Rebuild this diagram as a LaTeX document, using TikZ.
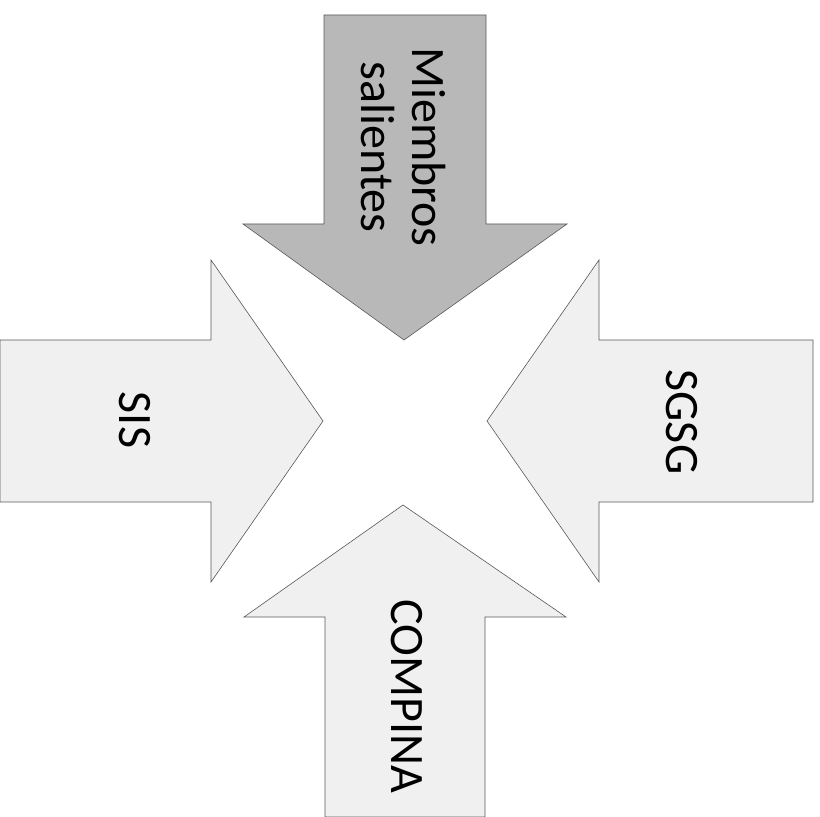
\documentclass[tikz,border=0pt]{standalone}
\usepackage{fontspec}
\setmainfont{Carlito}
\begin{document}
\begin{tikzpicture}[x=1pt,y=1pt,
  arrowshape/.style={draw=black!65,line width=0.6pt,line join=miter},
  darkarrow/.style={arrowshape,fill=black!28},
  lightarrow/.style={arrowshape,fill=black!6},
  lbl/.style={font=\fontsize{48}{51}\selectfont,align=center,inner sep=0pt}]
\useasboundingbox (0,0) rectangle (820,817);
\fill[white] (0,0) rectangle (820,817);
% top arrow (img y -> 817-y)
\draw[darkarrow] (324,802) -- (486,802) -- (486,593) -- (567,593) -- (404,477) -- (243,593) -- (324,593) -- cycle;
% left arrow
\draw[lightarrow] (0,477) -- (211,477) -- (211,557) -- (323,396) -- (211,235) -- (211,315) -- (0,315) -- cycle;
% right arrow
\draw[lightarrow] (813,477) -- (599,477) -- (599,557) -- (487,396) -- (599,235) -- (599,315) -- (813,315) -- cycle;
% bottom arrow
\draw[lightarrow] (325,0) -- (485,0) -- (485,200) -- (566,200) -- (403,312) -- (244,200) -- (325,200) -- cycle;
\node[lbl,rotate=-90] (ms) at (403,670) {Miembros\\salientes};
\node[lbl,rotate=-90] (sis) at (135,397) {SIS};
\node[lbl,rotate=-90] (sgsg) at (682,395) {SGSG};
\node[lbl,rotate=-90] (compina) at (407,121) {COMPINA};
\end{tikzpicture}
\end{document}
